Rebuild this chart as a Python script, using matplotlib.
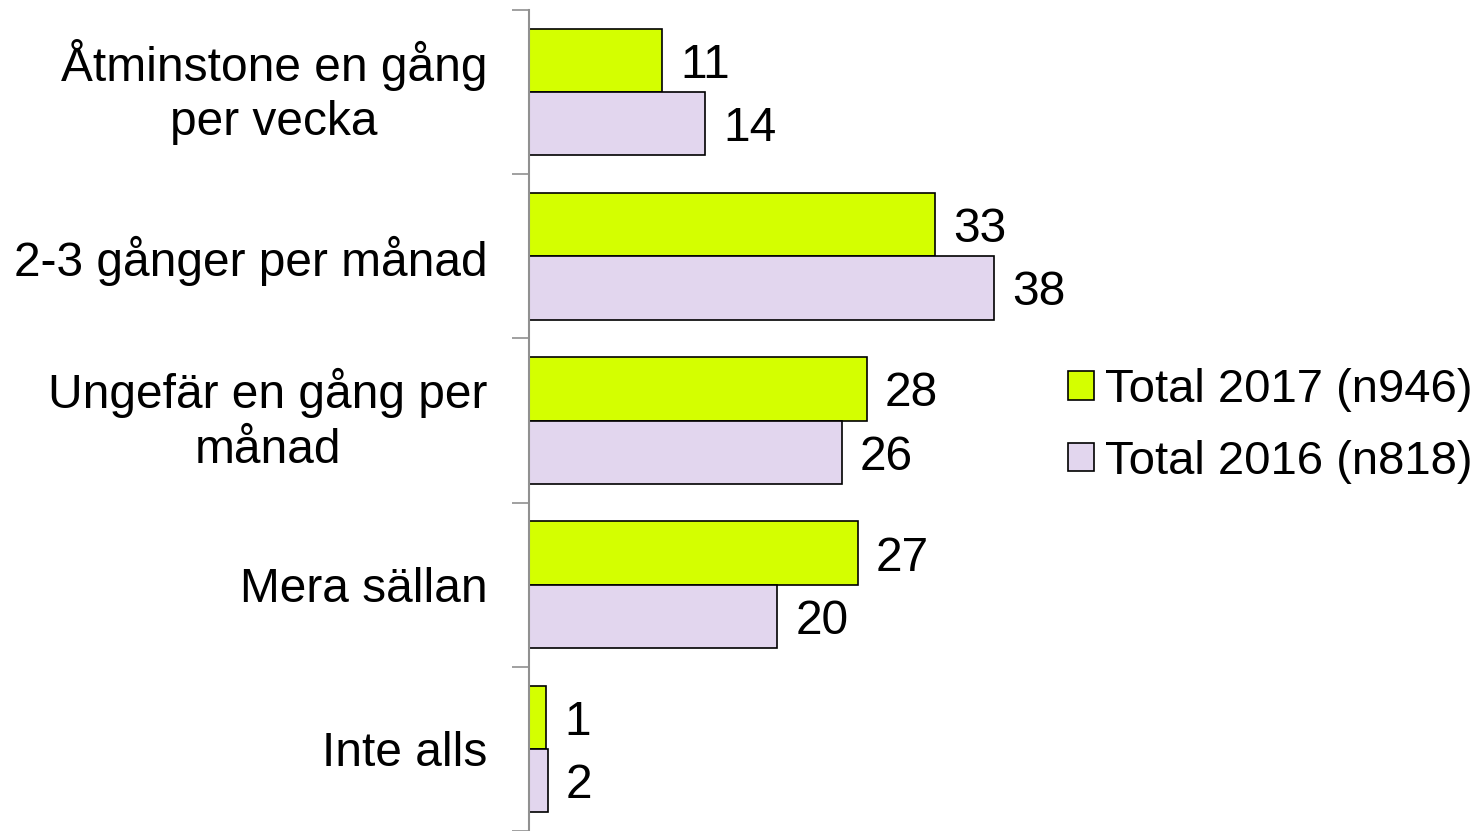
import numpy as np
import matplotlib.pyplot as plt

plt.rcParams['font.family'] = ['Liberation Sans', 'DejaVu Sans']

categories = ['Åtminstone en gång\nper vecka', '2-3 gånger per månad',
              'Ungefär en gång per\nmånad', 'Mera sällan', 'Inte alls']
# bar lengths (labels show them rounded)
total_2017 = [10.9, 33.2, 27.6, 26.9, 1.4]
total_2016 = [14.4, 38.0, 25.6, 20.3, 1.55]
labels_2017 = ['11', '33', '28', '27', '1']
labels_2016 = ['14', '38', '26', '20', '2']
series_names = ['Total 2017 (n946)', 'Total 2016 (n818)']

fig = plt.figure(figsize=(14.84, 8.31), dpi=100)
ax = fig.add_axes([529 / 1484, 0, (1060 - 529) / 1484, 1 - 10 / 831])

y = np.arange(len(categories))
h = 0.385
b1 = ax.barh(y - h / 2, total_2017, height=h, color='#d4ff00', edgecolor='black',
             linewidth=1.2, label=series_names[0])
b2 = ax.barh(y + h / 2, total_2016, height=h, color='#e2d6ee', edgecolor='black',
             linewidth=1.2, label=series_names[1])

for bars, labels in ((b1, labels_2017), (b2, labels_2016)):
    for rect, lab in zip(bars, labels):
        ax.text(rect.get_width() + 1.45, rect.get_y() + rect.get_height() / 2,
                lab, va='center_baseline', ha='left', fontsize=34.5)

ax.set_xlim(0, (1060 - 529) / (465 / 38))
ax.set_ylim(len(categories) - 0.5, -0.5)

ax.set_yticks(np.arange(len(categories) + 1) - 0.5)
ax.set_yticklabels([])
ax.tick_params(axis='y', which='major', length=12, color='#909090', width=1.2)
ax.set_yticks(y, minor=True)
ticklabels = ax.set_yticklabels(categories, minor=True, fontsize=34.5,
                                multialignment='center', linespacing=1.27)
for t in ticklabels:
    # two-line labels sit centred, one-line labels on their baseline centre
    t.set_va('center' if '\n' in t.get_text() else 'center_baseline')
ax.tick_params(axis='y', which='minor', length=0, pad=30)
ax.set_xticks([])

for s in ['top', 'right', 'bottom']:
    ax.spines[s].set_visible(False)
ax.spines['left'].set_color('#909090')
ax.spines['left'].set_linewidth(1.5)

fig.legend(loc='center left', bbox_to_anchor=(1044 / 1484, 1 - 426 / 831),
           frameon=False, fontsize=34, handlelength=0.55, handleheight=0.55,
           handletextpad=0.25, labelspacing=0.58, borderpad=0)

fig.savefig('out.png', dpi=100)
